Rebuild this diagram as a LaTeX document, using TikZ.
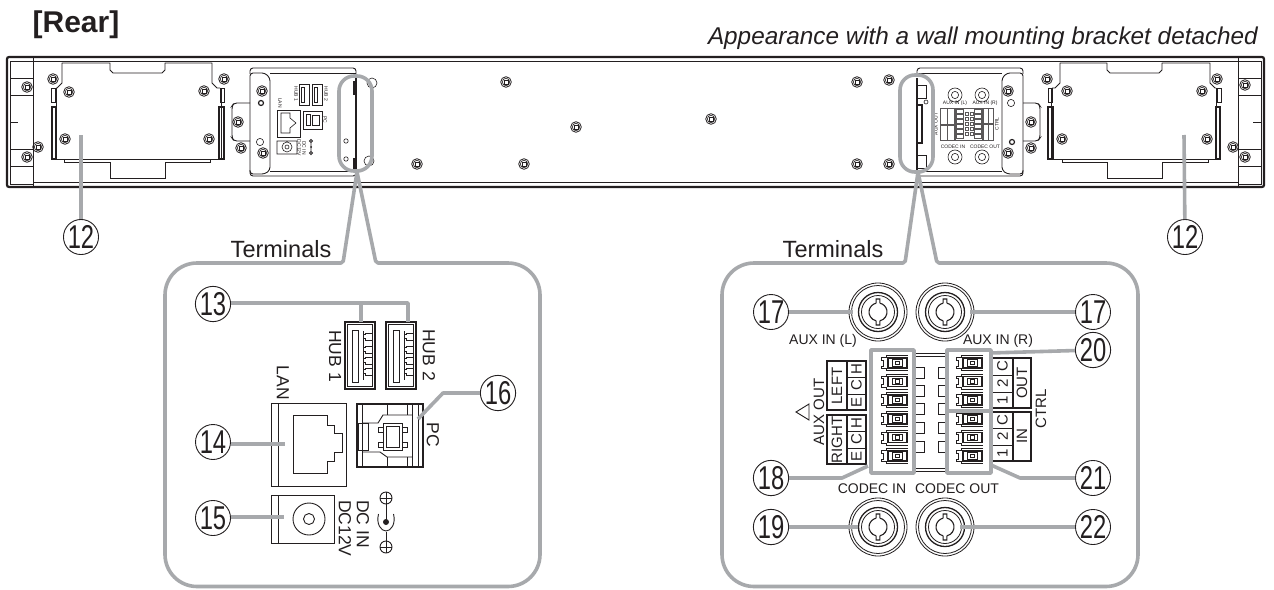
\documentclass[tikz,border=0pt]{standalone}
\usepackage{fontspec}
\usepackage{graphicx}
\setmainfont{Liberation Sans}
\usetikzlibrary{calc}
\definecolor{leadgrey}{HTML}{A7A9AC}
\definecolor{ink}{HTML}{231F20}
\newcommand\fsz[1]{\fontsize{#1}{#1}\selectfont}
\newcommand\cnum[1]{\scalebox{.72}[1]{\fsz{33}#1}}
\tikzset{
  ln/.style={draw=ink,line width=.9},
  thk/.style={draw=ink,line width=1.6},
  fin/.style={draw=ink,line width=.6},
  hair/.style={draw=ink!75,line width=.4},
  lead/.style={draw=leadgrey,line width=3.6,line join=round},
  callnum/.style={circle,draw=ink,line width=.9,minimum size=35,inner sep=0,text=ink,fill=white},
  lbl/.style={inner sep=0,text=ink},
  mini/.style={inner sep=0,text=ink,font=\fsz{5}},
  screwpic/.pic={
    \draw[ink,line width=.8] (0,0) circle (5.3);
    \draw[ink,line width=.6] (0,0) circle (3.7);
    \draw[ink,line width=.8] (-1.9,-1.9) rectangle (1.9,1.9);
  },
  jackpic/.pic={
    \draw[ink,line width=.8] (0,0) circle (29);
    \draw[ink,line width=.8] (0,0) circle (26.5);
    \draw[ink,line width=1.3] (0,0) circle (19.5);
    \draw[ink,line width=.8] (0,0) circle (16.5);
    \draw[ink,line width=1.1] (102:9) arc (102:258:9);
    \draw[ink,line width=1.1] (78:9) arc (78:-78:9);
    \draw[ink,line width=1.1] (102:9) -- (-1.87,13) -- (1.87,13) -- (78:9);
    \draw[ink,line width=1.1] (258:9) -- (-1.87,-13) -- (1.87,-13) -- (-78:9);
  },
  unitpic/.pic={
    \draw[ink,line width=.8] (28,-7.5) -- (6,-7.5) -- (6,-5.5) -- (1,-5.5) -- (1,-3) -- (3,-3) -- (3,3) -- (1,3) -- (1,5.5) -- (6,5.5) -- (6,7.5) -- (28,7.5);
    \draw[ink,line width=1.1] (8,-5) rectangle (27,5);
    \draw[ink,line width=.9] (12,-3.2) rectangle (22,3.2);
    \draw[ink,line width=.9] (15,-1.6) rectangle (19,1.6);
  },
  usbpic/.pic={
    \draw[ink,line width=1.6] (0,0) rectangle (30,67);
    \draw[ink,line width=.7] (2.5,2.5) rectangle (27.5,64.5);
    \draw[ink,line width=1] (7,8) rectangle (13,60);
    \draw[ink,line width=.8] (18,9) -- (18,58);
    \foreach \yy in {15,28,39,50}{\draw[ink,line width=.8] (18,\yy-2.5) -- (20,\yy-2.5) -- (20,\yy-4) -- (27,\yy-4) -- (27,\yy+3) -- (20,\yy+3) -- (20,\yy+1.5) -- (18,\yy+1.5);}
  },
  platepic/.pic={
    \draw[ln,line join=round] (56,88) -- (57,88) -- (62,83) -- (62,63) -- (110,63) -- (110,70) -- (113,73) -- (162,73) -- (165,70) -- (165,63) -- (212,63) -- (212,83) -- (217,88) -- (220,88);
    \draw[ln] (56,88) -- (56,159) -- (64,159) -- (64,162) -- (110,162) -- (110,178) -- (165,178) -- (165,162) -- (210,162) -- (210,159) -- (221,159) -- (221,88);
    \draw[ln] (64,159.5) -- (210,159.5);
    \draw[fin] (51,88) rectangle (55,102);
    \draw[thk] (52,107) rectangle (56,159);
    \draw[fin] (220,88) rectangle (224,102);
    \draw[thk] (219,107) rectangle (224,159);
  },
}
\begin{document}
\begin{tikzpicture}[x=1pt,y=-1pt]
\useasboundingbox[fill=white] (0,0) rectangle (1274,589);

% ---- titles
\node[lbl,font=\fsz{30}\bfseries] (title) at (76,25) {[Rear]};
\node[lbl,font=\fsz{24.3}\itshape,anchor=base east] (subtitle) at (1258,44) {Appearance with a wall mounting bracket detached};

% ---- chassis
\draw[ink,line width=2.2,rounded corners=2] (7,187) rectangle (1264,57);
\draw[ln] (33,61.5) -- (1238,61.5);
\draw[ln] (33,182.5) -- (1238,182.5);
\draw[fin] (10,61) rectangle (33,184);
\draw[fin] (1238,61) rectangle (1261,184);
\draw[ln] (33,57) -- (33,187) (1238,57) -- (1238,187);
\foreach \yy in {78,95,149,166}{
  \draw[fin] (10,\yy) -- (33,\yy);
  \draw[fin] (1238,\yy) -- (1261,\yy);
}
\draw[ln] (10,122) -- (18,122) (1253,122) -- (1261,122);

% ---- blank plates
\pic at (0,0) {platepic};
\begin{scope}[shift={(1272,0)},xscale=-1]
\pic[transform shape] at (0,0) {platepic};
\end{scope}

% ---- left terminal plate
\draw[ln,rounded corners=3] (250,74) -- (250,68) -- (356,68) -- (356,75);
\draw[fin] (270,73) -- (356,73);
\draw[ln,rounded corners=3] (250,170) -- (250,176) -- (356,176) -- (356,172);
\draw[fin] (270,171) -- (356,171);
\draw[ln,rounded corners=3] (250,73) -- (265,73) -- (270,78) -- (270,170) -- (265,174) -- (250,174) -- cycle;
\draw[ln,rounded corners=3] (250,103) -- (234,103) -- (232,106) -- (232,138) -- (234,141) -- (250,141);
\draw[thk] (356,78) -- (356,170);
\draw[thk] (354,81) -- (354,95) (354,158) -- (354,170);
\draw[fin] (346,141) circle (2.2) (346,159) circle (2.2);
\draw[fin] (372,83) circle (5) (369,161) circle (5);
\draw[ink,line width=1.2] (261,103) circle (2.5);
\draw[fin] (260,142) circle (3.6);
\draw[fin] (299,84) rectangle (309,105) (312,84) rectangle (322,105);
\draw[fin] (301,87) rectangle (304,102) (314,87) rectangle (317,102);
\draw[fin] (277,110) rectangle (300,137) (303,111) rectangle (322,129);
\draw[fin] (281,113) -- (290,113) -- (290,118) -- (296,123) -- (290,128) -- (290,133) -- (281,133) -- cycle;
\draw[fin] (306,114) rectangle (310,125) (312,115) rectangle (319,125);
\draw[fin] (277,141) rectangle (297,154) (287,147) circle (5) (287,147) circle (2);
\draw[fin] (311,139) -- (311,155) (311,141) circle (1.8) (311,153) circle (1.8);
\fill[ink] (311,147) circle (1);
\node[mini,rotate=-90] (m1) at (296,94) {HUB 1};
\node[mini,rotate=-90] (m2) at (326,94) {HUB 2};
\node[mini,rotate=-90] (m3) at (280,103) {LAN};
\node[mini,rotate=-90] (m4) at (325,120) {PC};
\node[mini,rotate=-90] (m5) at (304,148) {DC IN};
\node[mini,rotate=-90] (m6) at (299,148) {DC12V};

% ---- right terminal plate
\draw[ln,rounded corners=3] (917,75) -- (917,68) -- (1023,68) -- (1023,74);
\draw[fin] (917,73) -- (1002,73);
\draw[ln,rounded corners=3] (917,172) -- (917,176) -- (1023,176) -- (1023,170);
\draw[fin] (917,171) -- (1002,171);
\draw[ln,rounded corners=3] (1023,73) -- (1007,73) -- (1002,78) -- (1002,170) -- (1007,174) -- (1023,174) -- cycle;
\draw[ln,rounded corners=3] (1023,103) -- (1038,103) -- (1040,106) -- (1040,138) -- (1038,141) -- (1023,141);
\draw[thk] (917,78) -- (917,170);
\draw[fin] (917,85) rectangle (926,98) (917,155) rectangle (926,168);
\draw[thk] (917,105) rectangle (922,143);
\draw[fin] (926,102) circle (2);
\draw[fin] (1011,103) circle (3.6);
\draw[ink,line width=1.2] (1012,142) circle (2.5);
\foreach \px/\py in {955/95,982/95,955/157,982/157}{
  \draw[fin] (\px,\py) circle (7) (\px,\py) circle (3.6);
}
\node[mini] (m7) at (955,103.5) {AUX IN (L)};
\node[mini] (m8) at (985,103.5) {AUX IN (R)};
\node[mini] (m9) at (953,147) {CODEC IN};
\node[mini] (m10) at (985,147) {CODEC OUT};
\node[mini,rotate=90] (m11) at (936,124) {AUX OUT};
\node[mini,rotate=90] (m12) at (997,124) {CTRL};
\draw[hair] (940,108) rectangle (954,124) (940,125) rectangle (954,140) (947,108) -- (947,140);
\draw[hair] (983,108) rectangle (993,123) (983,124) rectangle (993,140) (988,108) -- (988,140);
\draw[hair] (955,108) rectangle (982,140);
\foreach \uu in {0,...,5}{
  \draw[hair] (956,{109+5*\uu}) rectangle (963,{113+5*\uu});
  \draw[hair] (974,{109+5*\uu}) rectangle (981,{113+5*\uu});
}
\foreach \uu in {0,...,4}{
  \draw[hair] (965,{112+5*\uu}) rectangle (968,{115+5*\uu});
  \draw[hair] (970,{112+5*\uu}) rectangle (973,{115+5*\uu});
}

% ---- screws
\foreach \sx/\sy in {53/79,69/92,65/139,224/79,204/91,209/139,27/87,38/147,27/157,262/91,238/122,241/148,263/153,417/164,506/82,576/127,711/119,524/164,857/82,857/164,889/80,889/164,1008/91,1008/153,1031/122,1031/148,1047/79,1067/91,1062/139,1217/79,1202/91,1207/139,1245/85,1233/147,1245/157}{
  \pic at (\sx,\sy) {screwpic};
}

% ---- left panel contents
\pic at (345,322) {usbpic};
\pic at (386,322) {usbpic};
\node[lbl,rotate=-90,font=\fsz{17.5}] (hub1) at (335,356) {HUB 1};
\node[lbl,rotate=-90,font=\fsz{17.5}] (hub2) at (429,355) {HUB 2};
\node[lbl,rotate=-90,font=\fsz{17.5}] (lan) at (283,383) {LAN};
\node[lbl,rotate=-90,font=\fsz{17.5}] (pc) at (433,435) {PC};
\node[lbl,rotate=-90,font=\fsz{17.5},anchor=west] (dcin) at (363,500) {DC IN};
\node[lbl,rotate=-90,font=\fsz{17.5},anchor=west] (dcv) at (345,500) {DC12V};
% LAN
\draw[ln] (271,403) rectangle (346,486);
\draw[ln] (278,403) -- (278,486);
\draw[ln] (293,415) -- (327,415) -- (327,425) -- (334,425) -- (334,433) -- (342,433) -- (342,452) -- (334,452) -- (334,461) -- (327,461) -- (327,473) -- (293,473) -- cycle;
% PC
\draw[thk] (357,404) rectangle (423,467);
\draw[ln] (362,404) -- (362,467) (412,404) -- (412,467) (418,404) -- (418,467);
\draw[ln] (358,423) rectangle (368,450);
\draw[ln] (363,423) -- (378,423) -- (383,415) -- (412,415);
\draw[ln] (363,452) -- (380,452) -- (387,457) -- (412,457);
\draw[ln] (383,423) rectangle (402,450);
\draw[ln] (386,426) rectangle (399,447);
\foreach \qx/\qy in {378/427,402/427,378/442,402/442}{\draw[ln] (\qx,\qy) rectangle ++(5,5);}
\draw[ln] (387,405) -- (387,415) (407,405) -- (407,415) (387,457) -- (387,466) (407,457) -- (407,466);
% DC
\draw[ln] (271,495) rectangle (334,543);
\draw[ln] (278,495) -- (278,543);
\draw[ln] (309,519) circle (16);
\draw[ln] (309,519) circle (5.5);
% polarity symbol
\coordinate (symT) at (386,498);
\coordinate (symB) at (386,547);
\draw[ln] (symT) circle (6) (symB) circle (6);
\draw[ln] (380,498) -- (392,498) (380,547) -- (392,547);
\draw[ln] (386,492) -- (386,522) (386,532) -- (386,553);
\fill[ink] (386,522) circle (3);
\draw[ln] (378.5,514) .. controls (376,524) and (381,531) .. (386,531) .. controls (391,531) and (396,524) .. (393.5,514);

% ---- right panel contents
\pic at (878,312) {jackpic};
\pic at (945,312) {jackpic};
\pic at (878,527) {jackpic};
\pic at (945,527) {jackpic};
\node[lbl,font=\fsz{14}] (auxl) at (823,341) {AUX IN (L)};
\node[lbl,font=\fsz{14}] (auxr) at (998,341) {AUX IN (R)};
\node[lbl,font=\fsz{14}] (codin) at (872,489) {CODEC IN};
\node[lbl,font=\fsz{14}] (codout) at (957,489) {CODEC OUT};
% terminal block
\draw[ln] (914,353) -- (947,353) (914,356) -- (947,356) (914,468) -- (947,468) (914,471) -- (947,471);
\foreach \uy in {363,381.5,400,419,437.5,456}{
  \pic at (880,\uy) {unitpic};
  \pic at (955,\uy) {unitpic};
}
\foreach \uy in {373,391,409,428,447}{
  \draw[ln] (915,\uy-5.5) rectangle (924,\uy+5.5);
  \draw[ln] (938,\uy-5.5) rectangle (947,\uy+5.5);
}
% tables
\draw[thk] (827,361) rectangle (866,410);
\draw[thk] (827,415) rectangle (866,464);
\draw[thk] (847,361) -- (847,410) (847,415) -- (847,464);
\draw[ln] (847,377) -- (866,377) (847,394) -- (866,394) (847,431) -- (866,431) (847,448) -- (866,448);
\draw[thk] (992,358) rectangle (1031,408);
\draw[thk] (992,412) rectangle (1031,461);
\draw[thk] (1013,358) -- (1013,408) (1013,412) -- (1013,461);
\draw[ln] (992,375) -- (1013,375) (992,392) -- (1013,392) (992,428) -- (1013,428) (992,445) -- (1013,445);
\node[lbl,rotate=90,font=\fsz{15}] (left) at (837,386) {LEFT};
\node[lbl,rotate=90,font=\fsz{15}] (right) at (837,440) {RIGHT};
\foreach \nm/\ch/\ty in {a/H/369,b/C/385.5,c/E/402,d/H/423,e/C/439.5,f/E/456}{
  \node[lbl,rotate=90,font=\fsz{15}] (t\nm) at (856.5,\ty) {\ch};
}
\foreach \nm/\ch/\ty in {a/C/366.5,b/2/383.5,c/1/400,d/C/420,e/2/436.5,f/1/453}{
  \node[lbl,rotate=90,font=\fsz{15}] (u\nm) at (1002.5,\ty) {\ch};
}
\node[lbl,rotate=90,font=\fsz{15}] (out) at (1022,383) {OUT};
\node[lbl,rotate=90,font=\fsz{15}] (in) at (1022,436) {IN};
\node[lbl,rotate=90,font=\fsz{15}] (ctrl) at (1041,409) {CTRL};
\node[lbl,rotate=90,font=\fsz{15}] (auxout) at (819,412) {AUX OUT};
\draw[ln] (796,412) -- (809,404) -- (809,420) -- cycle;

% ---- grey overlay: stadiums and panels
\draw[lead,rounded corners=15] (339,76) rectangle (372,171);
\draw[lead,rounded corners=15] (900,75) rectangle (933,172);
\coordinate (wl) at (357,172);
\coordinate (wr) at (918,172);
\draw[lead,rounded corners=2] (wl) -- (343,263) [rounded corners=32] -- (165,263) -- (165,586.5) -- (540,586.5) -- (540,263) [rounded corners=2] -- (376,263) -- (wl);
\draw[lead,rounded corners=2] (wr) -- (905,263) [rounded corners=32] -- (722,263) -- (722,586.5) -- (1138,586.5) -- (1138,263) [rounded corners=2] -- (937,263) -- (wr);
\draw[lead] (871,350) rectangle (914,473);
\draw[lead] (947,350) rectangle (991,473);
\draw[lead] (947,411) -- (991,411);

\node[lbl,font=\fsz{23.5}] (term1) at (281,249) {Terminals};
\node[lbl,font=\fsz{23.5}] (term2) at (833,249) {Terminals};

% ---- callouts
\node[callnum] (c12a) at (81,237) {\cnum{12}};
\node[callnum] (c12b) at (1185,237) {\cnum{12}};
\node[callnum] (c13) at (213,304) {\cnum{13}};
\node[callnum] (c14) at (213,442) {\cnum{14}};
\node[callnum] (c15) at (213,518) {\cnum{15}};
\node[callnum] (c16) at (498,393) {\cnum{16}};
\node[callnum] (c17a) at (771,312) {\cnum{17}};
\node[callnum] (c17b) at (1093,312) {\cnum{17}};
\node[callnum] (c18) at (771,478) {\cnum{18}};
\node[callnum] (c19) at (771,527) {\cnum{19}};
\node[callnum] (c20) at (1093,350) {\cnum{20}};
\node[callnum] (c21) at (1093,478) {\cnum{21}};
\node[callnum] (c22) at (1093,527) {\cnum{22}};

\coordinate (e12a) at (81,135);
\coordinate (e12b) at (1184,135);
\draw[lead] (c12a) -- (e12a);
\draw[lead] (c12b) -- (e12b);
\coordinate (b13a) at (361,303);
\coordinate (b13b) at (408,303);
\coordinate (e13a) at (361,322);
\coordinate (e13b) at (408,322);
\draw[lead] (c13.east |- b13a) -- (b13b) -- (e13b);
\draw[lead] (b13a) -- (e13a);
\coordinate (e14) at (285,444);
\coordinate (e15) at (284,517);
\draw[lead] (c14.east |- e14) -- (e14);
\draw[lead] (c15.east |- e15) -- (e15);
\coordinate (b16) at (443,393);
\coordinate (e16) at (418,419);
\draw[lead] (c16) -- (b16) -- (e16);
\coordinate (e17a) at (853,312);
\coordinate (e17b) at (970,312);
\draw[lead] (c17a) -- (e17a);
\draw[lead] (c17b) -- (e17b);
\coordinate (b18) at (842,478);
\coordinate (e18) at (868,466);
\draw[lead] (c18) -- (b18) -- (e18);
\coordinate (e19) at (858,527);
\coordinate (e22) at (960,527);
\draw[lead] (c19) -- (e19);
\draw[lead] (c22) -- (e22);
\coordinate (e20) at (990,353);
\draw[lead] (c20) -- (e20);
\coordinate (b21) at (1020,478);
\coordinate (e21) at (991,465);
\draw[lead] (c21) -- (b21) -- (e21);
\end{tikzpicture}
\end{document}
